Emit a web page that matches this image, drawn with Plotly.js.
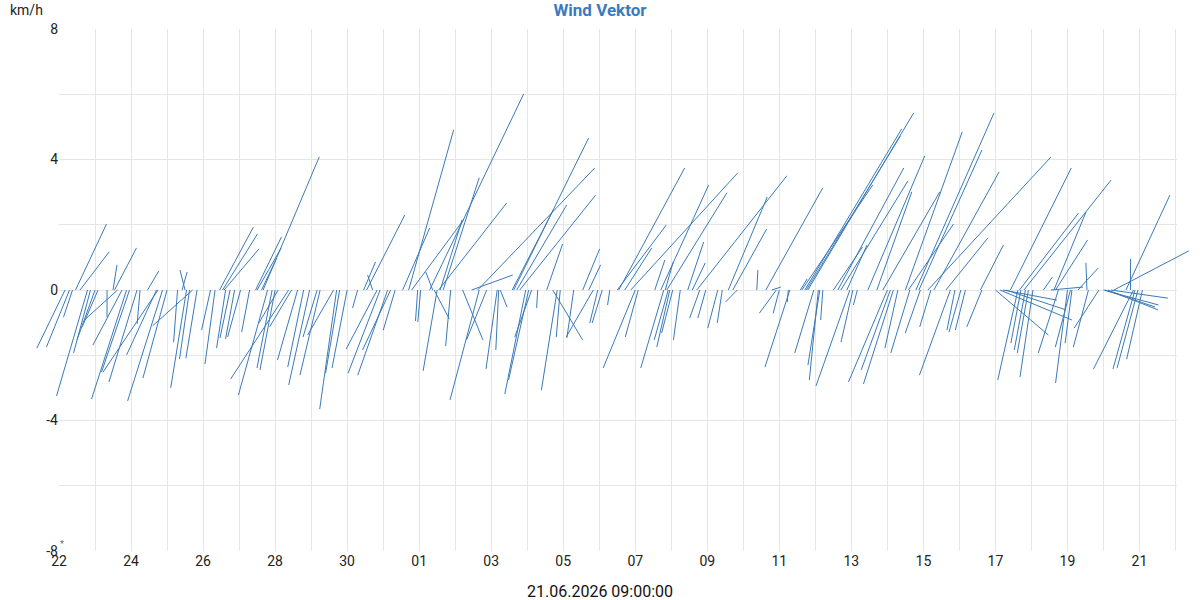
<!DOCTYPE html>
<html><head><meta charset="utf-8">
<script src="https://cdn.plot.ly/plotly-3.0.1.min.js"></script>
<style>html,body{margin:0;padding:0;background:#fff}#chart{width:1200px;height:600px}</style>
</head><body><div id="chart"></div>
<script>
// ---- data ----
const startDate = '2026-05-22T00:00:00Z';
const endDate = '2026-06-22T01:00:00Z';
const chartTitle = 'Wind Vektor';
const unitLabel = 'km/h';
const timeLabel = '21.06.2026 09:00:00';
const hoursSinceStart = [4,7,9,11,14,19,21,24,26,32,36,37,39,42,45,47,52,54,59,65,66,69,72,79,82,84,85,87,89,92,101,104,107,109,110,111,114,117,121,127,131,132,135,136,139,142,144,146,153,155,159,163,167,172,174,183,185,187,192,199,203,205,209,212,214,219,221,224,229,233,235,239,241,247,249,250,252,253,254,256,261,269,275,279,280,285,292,293,294,302,303,305,307,311,313,315,319,325,329,332,334,343,349,353,356,359,362,367,372,373,377,381,384,386,397,401,403,404,405,406,407,409,414,419,422,425,427,431,439,442,446,449,452,465,471,475,478,480,486,487,494,495,497,498,499,503,506,507,509,516,519,521,525,527,529,532,539,545,549,552,554,556,559,564,566,567,571,573,574,579,581,583,591,594,597,601,604,614,615,624,627,629,631,634,639,640,641,643,644,646,649,656,661,663,664,666,672,674,675,679,685,686,693,696,697,699,701,703,711,714,716,717,719,722,725];
const windU = [-0.78,-0.64,-0.25,0.86,0.81,-0.86,-0.47,-0.5,-0.44,0,0.11,0.61,-0.92,-0.81,-0.97,-0.78,-0.78,-0.08,0.31,-0.83,-1.53,-0.97,-0.67,-0.11,0.14,-0.14,-0.44,-0.28,-1.11,-0.31,-0.25,-0.28,0.94,0.97,0.97,-0.25,-0.28,-0.25,-0.36,-0.22,0.72,0.67,0.42,1.56,-0.81,-0.42,-0.42,-0.53,-1.61,-0.61,-0.56,-0.44,-0.58,-0.39,-0.56,-0.72,-0.47,-0.39,-0.42,-0.14,0.33,1.06,-0.14,-0.86,-0.89,-0.83,-0.78,-0.33,0.75,1.25,1.44,-0.06,-0.08,2.61,-0.19,0.42,-0.39,1.89,0.61,1.0,-0.14,0.56,1.14,3.25,-0.81,-0.56,-0.31,-0.08,0.19,1.14,2.08,1.39,2.11,-0.58,-0.56,-0.47,-0.03,0.44,0.83,-0.44,-0.11,-0.19,0.47,0.33,-0.75,-0.22,-0.28,-0.06,1.36,1.83,0.75,2.97,-0.89,-0.36,0.28,1.33,-0.64,0.22,1.67,-0.39,-0.36,-0.31,-0.19,0.44,0.36,2.5,-0.28,-0.22,-0.28,-0.14,1.08,0.94,-0.33,0.03,1.58,0.25,-0.47,-0.17,-0.03,-0.69,0.19,1.97,2.69,2.61,2.94,-0.53,-0.25,-0.33,-0.06,0.81,1.83,1.86,0.56,-0.94,-0.33,-0.11,1.58,0.97,1.58,-1.08,-0.81,-0.83,-0.36,1.58,1.25,-0.53,2.17,1.75,-0.42,3.42,-0.31,1.81,1.17,-0.86,-0.22,-0.33,-0.28,0.64,-0.42,1.47,2.0,1.5,1.67,1.69,-0.56,1.64,-0.28,2.42,-0.31,-0.31,-0.36,0.25,0.89,0.89,0.89,-0.56,-0.33,-0.42,-0.19,0.56,-0.03,-0.42,-0.69,1.53,1.39,1.39,1.58,2.08,1.22,0,-1.11,-0.61,-0.58,-0.44];
const windV = [-1.78,-1.75,-0.83,2.02,1.17,-3.25,-1.93,-1.53,-1.13,-0.83,0.77,1.29,-0.92,-1.69,-3.34,-2.52,-2.82,-1.04,0.58,-1.99,-2.52,-3.4,-2.7,-1.6,0.55,0.61,-3.0,-2.12,-1.1,-2.09,-1.23,-2.27,1.93,1.72,1.26,-1.78,-1.47,-1.5,-1.44,-1.29,1.63,1.29,0.98,4.08,-3.22,-2.39,-2.45,-1.01,-2.73,-1.13,-2.15,-2.36,-2.91,-1.44,-2.61,-1.38,-3.65,-2.55,-2.39,-0.55,0.86,2.3,0.46,-1.81,-2.55,-2.61,-1.84,-1.23,1.9,4.91,2.15,-0.95,-0.98,6.01,0.55,-0.89,-2.48,2.67,2.15,3.44,-1.72,-1.53,0.46,3.74,-3.37,-1.53,-2.42,-1.84,-0.52,2.45,4.66,2.61,2.91,-3.19,-2.76,-1.44,-0.55,1.41,-1.53,-3.07,-1.44,-1.47,1.26,0.77,-1.44,-1.01,-1.01,-0.46,1.99,3.74,1.29,3.59,-2.39,-1.44,0.92,3.22,-2.39,0.86,2.98,-1.53,-1.75,-1.32,-1.53,1.47,0.83,3.5,-0.86,-0.86,-1.17,-1.01,2.85,1.87,-0.37,0.61,3.13,0.09,-0.71,-0.71,-0.37,-2.36,0.34,3.22,4.94,4.72,5.43,-1.93,-2.76,-2.3,-0.92,1.32,3.74,3.34,1.38,-2.94,-1.6,-0.46,4.11,3.01,3.01,-2.82,-2.45,-2.88,-1.78,4.85,2.02,-1.93,5.43,4.29,-1.32,4.08,-1.13,3.62,1.6,-2.61,-1.23,-1.29,-1.23,1.38,-1.13,-1.38,-0.92,-0.31,-0.61,3.74,-2.76,2.36,-1.63,3.37,-1.84,-1.93,-2.67,0.4,0.09,2.39,1.53,-1.93,-2.85,-1.75,-1.63,0.67,0.83,-1.75,-1.17,-0.46,-0.52,-0.61,-0.25,1.2,2.91,0.95,-2.42,-2.42,-2.39,-2.12];
const yTickValues = [-8,-6,-4,-2,0,2,4,6,8];
const yTickLabels = ['-8','','-4','','0','','4','','8'];

// ---- build ----
const HOURS_PER_KMH = 24;
const H = 3600e3, DAY = 24 * H;
const t0 = Date.parse(startDate), t1 = Date.parse(endDate);
const xs = [], ys = [];
for (let i = 0; i < hoursSinceStart.length; i++) {
  const ts = t0 + hoursSinceStart[i] * H;
  xs.push(ts, ts + windU[i] * HOURS_PER_KMH * H, null);
  ys.push(0, windV[i], null);
}

const W = 1200, HT = 600;
const L = 59, R = 1177, T = 29, B = 551;
const yMin = -8, yMax = 8;
const msPerPx = (t1 - t0) / (R - L);
const uPerPx = (yMax - yMin) / (B - T);
const grid = '#e6e6e6';
const font = {family: 'Roboto, Arial, sans-serif', size: 14, color: '#222'};
const lineColor = '#3a7ab8';

const traces = [{
  type: 'scatter', mode: 'lines', x: xs, y: ys, xaxis: 'x2', yaxis: 'y2',
  line: {color: lineColor, width: 1}, connectgaps: false, hoverinfo: 'skip', showlegend: false
}, {
  type: 'scatter', mode: 'lines', x: [t0, t1], y: [0, 0], xaxis: 'x', yaxis: 'y',
  line: {color: 'rgba(0,0,0,0)', width: 0}, hoverinfo: 'skip', showlegend: false
}];

const layout = {
  width: W, height: HT,
  margin: {l: 0, r: 0, t: 0, b: 0, pad: 0},
  paper_bgcolor: '#fff', plot_bgcolor: 'rgba(0,0,0,0)',
  font: font, showlegend: false,
  title: {text: '<b>' + chartTitle + '</b>', x: 0.5, xanchor: 'center', xref: 'paper', y: 1 - 10 / HT, yanchor: 'middle',
          font: {family: 'Roboto, Arial, sans-serif', size: 17, color: '#3b7bbd'}},
  xaxis: {
    type: 'date', domain: [L / W, R / W], range: [t0, t1], anchor: 'y',
    tickformat: '%d', tick0: t0, dtick: 2 * DAY, ticks: '', showline: false, zeroline: false,
    showgrid: true, gridcolor: grid, gridwidth: 1,
    minor: {tick0: t0, dtick: DAY, showgrid: true, gridcolor: grid, gridwidth: 1, ticks: ''},
    tickfont: font, fixedrange: true
  },
  yaxis: {
    domain: [(HT - B) / HT, (HT - T) / HT], range: [yMin, yMax], anchor: 'x',
    tickmode: 'array', tickvals: yTickValues, ticktext: yTickLabels, ticks: '',
    showline: false, zeroline: false, showgrid: true, gridcolor: grid, gridwidth: 1,
    tickfont: font, fixedrange: true
  },
  xaxis2: {type: 'date', domain: [0, 1], range: [t0 - L * msPerPx, t1 + (W - R) * msPerPx], anchor: 'y2', visible: false, fixedrange: true},
  yaxis2: {domain: [0, 1], range: [yMin - (HT - B) * uPerPx, yMax + T * uPerPx], anchor: 'x2', visible: false, fixedrange: true},
  annotations: [
    {text: unitLabel, xref: 'paper', yref: 'paper', x: 8 / W, y: 1 - 10 / HT, xanchor: 'left', yanchor: 'middle', showarrow: false,
     font: {family: 'Roboto, Arial, sans-serif', size: 14, color: '#222'}},
    {text: timeLabel, xref: 'paper', yref: 'paper', x: 0.5, y: 9 / HT, xanchor: 'center', yanchor: 'middle', showarrow: false,
     font: {family: 'Roboto, Arial, sans-serif', size: 16, color: '#111'}},
    {text: '*', xref: 'x', yref: 'y', x: t0 + 2 * H, y: -7.8, showarrow: false,
     font: {family: 'Roboto, Arial, sans-serif', size: 9, color: '#5a6e88'}}
  ]
};

Plotly.newPlot('chart', traces, layout, {staticPlot: true, displayModeBar: false});
</script>
</body></html>
